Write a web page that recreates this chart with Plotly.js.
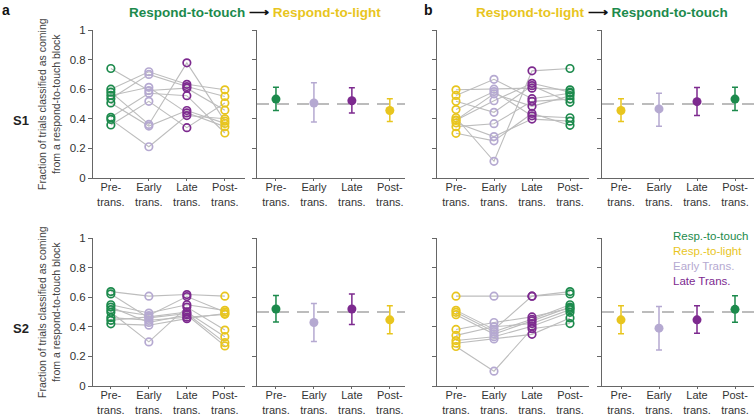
<!DOCTYPE html>
<html>
<head>
<meta charset="utf-8">
<script src="https://cdn.plot.ly/plotly-3.0.1.min.js"></script>
<style>
  html, body { margin: 0; padding: 0; background: #fff; }
  #plot { width: 755px; height: 418px; }
</style>
</head>
<body>
<div id="plot"></div>
<script>
// stage names on the x axes
const stageLabels = ['Pre-<br>trans.', 'Early<br>trans.', 'Late<br>trans.', 'Post-<br>trans.'];
const stageX = [0, 1, 2, 3];

// colours
const green = '#1c8a4c';
const yellow = '#e8c51e';
const lavender = '#b5a9d1';
const purple = '#7d2a8f';

// panel a, S1: one value per session for each stage
const aS1Pre   = [0.74, 0.60, 0.58, 0.558, 0.535, 0.507, 0.41, 0.396, 0.358];
const aS1Early = [0.591, 0.718, 0.362, 0.613, 0.70, 0.351, 0.573, 0.211, 0.518];
const aS1Late  = [0.607, 0.633, 0.778, 0.44, 0.618, 0.456, 0.556, 0.422, 0.34];
const aS1Post  = [0.458, 0.596, 0.384, 0.347, 0.551, 0.369, 0.304, 0.40, 0.507];

// panel b, S1
const bS1Pre   = [0.596, 0.558, 0.518, 0.462, 0.407, 0.391, 0.39, 0.373, 0.347, 0.302];
const bS1Early = [0.6, 0.667, 0.444, 0.584, 0.113, 0.569, 0.522, 0.28, 0.367, 0.251];
const bS1Late  = [0.607, 0.536, 0.624, 0.42, 0.724, 0.484, 0.64, 0.398, 0.518, 0.436];
const bS1Post  = [0.596, 0.573, 0.511, 0.407, 0.74, 0.556, 0.58, 0.384, 0.533, 0.356];

// panel a, S2
const aS2Pre   = [0.638, 0.622, 0.549, 0.533, 0.516, 0.498, 0.462, 0.444, 0.42];
const aS2Early = [0.607, 0.46, 0.493, 0.429, 0.476, 0.298, 0.444, 0.467, 0.411];
const aS2Late  = [0.618, 0.49, 0.549, 0.48, 0.604, 0.533, 0.465, 0.5, 0.455];
const aS2Post  = [0.607, 0.293, 0.511, 0.271, 0.5, 0.378, 0.484, 0.333, 0.49];

// panel b, S2
const bS2Pre   = [0.607, 0.511, 0.498, 0.482, 0.382, 0.342, 0.307, 0.289, 0.267];
const bS2Early = [0.607, 0.382, 0.367, 0.351, 0.429, 0.4, 0.333, 0.318, 0.1];
const bS2Late  = [0.607, 0.607, 0.451, 0.44, 0.467, 0.422, 0.404, 0.349, 0.387];
const bS2Post  = [0.638, 0.622, 0.549, 0.533, 0.525, 0.516, 0.498, 0.46, 0.422];

// means with upper / lower ends of the error bars
const aS1Mean = [0.533, 0.507, 0.522, 0.456];
const aS1Hi   = [0.613, 0.644, 0.609, 0.536];
const aS1Lo   = [0.456, 0.378, 0.44, 0.382];

const bS1Mean = [0.456, 0.467, 0.516, 0.533];
const bS1Hi   = [0.536, 0.573, 0.611, 0.613];
const bS1Lo   = [0.382, 0.349, 0.422, 0.456];

const aS2Mean = [0.52, 0.429, 0.52, 0.447];
const aS2Hi   = [0.611, 0.558, 0.622, 0.542];
const aS2Lo   = [0.433, 0.30, 0.416, 0.353];

const bS2Mean = [0.447, 0.391, 0.447, 0.518];
const bS2Hi   = [0.542, 0.538, 0.542, 0.609];
const bS2Lo   = [0.353, 0.244, 0.356, 0.431];

const aColors = [green, lavender, purple, yellow];
const bColors = [yellow, lavender, purple, green];

let data = [];

// session lines + open circles
function addSessions(groups, colors, k) {
  let n = groups[0].length;
  for (let i = 0; i < n; i++) {
    data.push({
      x: stageX, y: groups.map(g => g[i]),
      xaxis: 'x' + k, yaxis: 'y' + k,
      mode: 'lines', line: {color: '#bdbdbd', width: 1.1},
      showlegend: false, hoverinfo: 'skip'
    });
  }
  groups.forEach((g, j) => {
    data.push({
      x: g.map(() => stageX[j]), y: g,
      xaxis: 'x' + k, yaxis: 'y' + k,
      mode: 'markers',
      marker: {symbol: 'circle-open', size: 7.5, color: colors[j], line: {width: 1.7, color: colors[j]}},
      showlegend: false
    });
  });
}

// filled means with error bars
function addMeans(mean, hi, lo, colors, k) {
  mean.forEach((m, j) => {
    data.push({
      x: [stageX[j]], y: [m],
      xaxis: 'x' + k, yaxis: 'y' + k,
      mode: 'markers',
      marker: {size: 9, color: colors[j]},
      error_y: {type: 'data', symmetric: false, array: [hi[j] - m], arrayminus: [m - lo[j]],
                color: colors[j], thickness: 1.5, width: 3},
      showlegend: false
    });
  });
}

addSessions([aS1Pre, aS1Early, aS1Late, aS1Post], aColors, 1);
addMeans(aS1Mean, aS1Hi, aS1Lo, aColors, 2);
addSessions([bS1Pre, bS1Early, bS1Late, bS1Post], bColors, 3);
addMeans(bS1Mean, bS1Hi, bS1Lo, bColors, 4);
addSessions([aS2Pre, aS2Early, aS2Late, aS2Post], aColors, 5);
addMeans(aS2Mean, aS2Hi, aS2Lo, aColors, 6);
addSessions([bS2Pre, bS2Early, bS2Late, bS2Post], bColors, 7);
addMeans(bS2Mean, bS2Hi, bS2Lo, bColors, 8);

const W = 755, H = 418;
const font = 'Liberation Sans, Arial, sans-serif';
// column pixel extents and x ranges
const cols = [[93, 245, [-0.47, 3.53]], [257, 405, [-0.5, 3.4]], [437, 589, [-0.5, 3.5]], [602, 754, [-0.5, 3.5]]];
const rows = [[30, 178], [238, 386]];

var layout = {
  width: W, height: H,
  margin: {l: 0, r: 0, t: 0, b: 0},
  paper_bgcolor: '#fff', plot_bgcolor: 'rgba(0,0,0,0)',
  font: {family: font, size: 11, color: '#333'},
  showlegend: false,
  shapes: [],
  annotations: []
};

function note(x, y, text, opts) {
  layout.annotations.push(Object.assign({
    xref: 'paper', yref: 'paper', x: x / W, y: (H - y) / H,
    xanchor: 'center', yanchor: 'middle', text: text, showarrow: false
  }, opts));
}

for (let r = 0; r < 2; r++) {
  for (let c = 0; c < 4; c++) {
    let k = r * 4 + c + 1;
    let col = cols[c], row = rows[r];
    layout['xaxis' + k] = {
      domain: [col[0] / W, col[1] / W], range: col[2], anchor: 'y' + k,
      showline: true, linecolor: '#666', linewidth: 1,
      ticks: 'outside', ticklen: 2, tickcolor: '#666',
      ticklabelstandoff: -3,
      tickvals: stageX, ticktext: stageLabels,
      tickfont: {size: 11, color: '#333'},
      showgrid: false, zeroline: false
    };
    layout['yaxis' + k] = {
      domain: [(H - row[1]) / H, (H - row[0]) / H], range: [0, 1], anchor: 'x' + k,
      showline: true, linecolor: '#666', linewidth: 1,
      ticks: 'outside', ticklen: 4, tickcolor: '#666',
      tickvals: [0, 0.2, 0.4, 0.6, 0.8, 1], ticktext: ['0', '0.2', '0.4', '0.6', '0.8', '1'],
      showticklabels: c === 0, tickfont: {size: 11.5, color: '#333'},
      showgrid: false, zeroline: false
    };
    if (c % 2 === 1) {
      layout.shapes.push({
        type: 'line', xref: 'x' + k + ' domain', yref: 'y' + k,
        x0: 0, x1: 1, y0: 0.5, y1: 0.5,
        line: {color: '#7a7a7a', width: 1.1, dash: '12px,8px'}, layer: 'below'
      });
    }
  }
  // y title (two lines) and row label
  let mid = (rows[r][0] + rows[r][1]) / 2;
  note(42, mid, 'Fraction of trials classified as coming', {textangle: -90, font: {size: 10.5, color: '#444'}});
  note(56, mid, 'from a respond-to-touch block', {textangle: -90, font: {size: 10.5, color: '#444'}});
  note(21, mid + 16, '<b>S' + (r + 1) + '</b>', {font: {size: 13, color: '#222'}});
}

// panel letters and titles
note(6, 10, '<b>a</b>', {font: {size: 14, color: '#111'}});
note(428, 10, '<b>b</b>', {font: {size: 14, color: '#111'}});
note(255, 13, '<b><span style="color:' + green + '">Respond-to-touch</span> ⟶ <span style="color:' + yellow + '">Respond-to-light</span></b>',
     {font: {size: 13.5, color: '#111'}});
note(602, 13, '<b><span style="color:' + yellow + '">Respond-to-light</span> ⟶ <span style="color:' + green + '">Respond-to-touch</span></b>',
     {font: {size: 13.5, color: '#111'}});

// legend text
const legendNames = ['Resp.-to-touch', 'Resp.-to-light', 'Early Trans.', 'Late Trans.'];
const legendColors = [green, yellow, lavender, purple];
legendNames.forEach((name, i) => {
  note(671, 236 + i * 15, name, {xanchor: 'left', font: {size: 11.5, color: legendColors[i]}});
});

Plotly.newPlot('plot', data, layout, {displayModeBar: false, staticPlot: true});
</script>
</body>
</html>
